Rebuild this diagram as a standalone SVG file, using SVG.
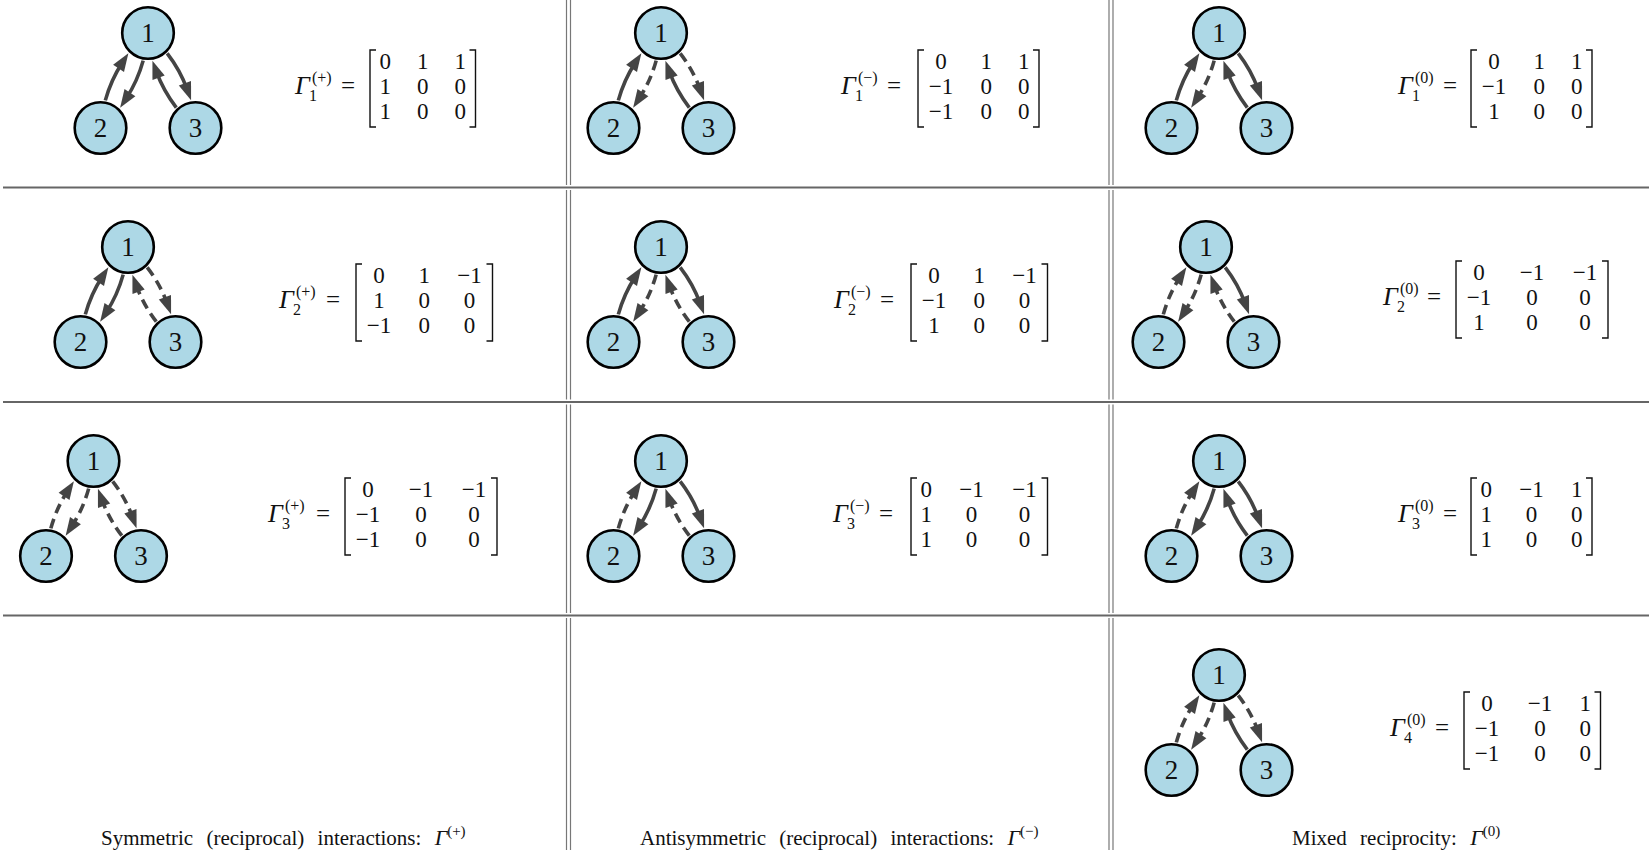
<svg xmlns="http://www.w3.org/2000/svg" width="1649" height="857" viewBox="0 0 1649 857">
<style>
.node circle{fill:#add8e6;stroke:#000;stroke-width:2.6}
.node text{font-family:"Liberation Serif",serif;font-size:27px;text-anchor:middle;fill:#111}
.e{fill:none;stroke:#444;stroke-width:3.6;marker-end:url(#ah)}
.d{stroke-dasharray:10 6}
.mx text{font-family:"Liberation Serif",serif;font-size:23px;fill:#111;text-anchor:middle}
.mx text.gm{font-style:italic;font-size:26px;text-anchor:start}
.mx text.ss{font-size:16px;text-anchor:start}
.mx text.eq{font-size:25px}
.br{fill:none;stroke:#111;stroke-width:1.4}
.sep{stroke:#666;stroke-width:2}
.vsep{stroke:#777;stroke-width:1.2}
.cap{font-family:"Liberation Serif",serif;font-size:21px;fill:#111;word-spacing:8px}
</style>
<defs>
<marker id="ah" markerUnits="userSpaceOnUse" markerWidth="20" markerHeight="15" refX="7" refY="6.5" orient="auto" overflow="visible"><path d="M0,0 L18,6.5 L0,13 z" fill="#444"/></marker>
</defs>
<rect width="1649" height="857" fill="#fff"/>
<g id="grid">
<line class="sep" x1="3" y1="187.5" x2="1649" y2="187.5"/>
<line class="sep" x1="3" y1="402" x2="1649" y2="402"/>
<line class="sep" x1="3" y1="615.5" x2="1649" y2="615.5"/>
<g class="vsep">
<line x1="566.5" y1="0" x2="566.5" y2="185"/><line x1="570.5" y1="0" x2="570.5" y2="185"/>
<line x1="566.5" y1="190" x2="566.5" y2="399.5"/><line x1="570.5" y1="190" x2="570.5" y2="399.5"/>
<line x1="566.5" y1="404.5" x2="566.5" y2="613"/><line x1="570.5" y1="404.5" x2="570.5" y2="613"/>
<line x1="566.5" y1="618" x2="566.5" y2="850"/><line x1="570.5" y1="618" x2="570.5" y2="850"/>
<line x1="1109" y1="0" x2="1109" y2="185"/><line x1="1113" y1="0" x2="1113" y2="185"/>
<line x1="1109" y1="190" x2="1109" y2="399.5"/><line x1="1113" y1="190" x2="1113" y2="399.5"/>
<line x1="1109" y1="404.5" x2="1109" y2="613"/><line x1="1113" y1="404.5" x2="1113" y2="613"/>
<line x1="1109" y1="618" x2="1109" y2="850"/><line x1="1113" y1="618" x2="1113" y2="850"/>
</g>
</g>

<g id="connectors">
<g transform="translate(148,33)">
<path class="e" d="M-42.67,67.38 Q-37.05,46.97 -25.62,29.47"/>
<path class="e" d="M-4.83,27.62 Q-10.45,48.04 -21.87,65.53"/>
<path class="e" d="M19.2,20.45 Q32.16,37.19 39.31,56.83"/>
<path class="e" d="M28.3,74.55 Q15.34,57.82 8.19,38.17"/>
</g>
<g transform="translate(661,33)">
<path class="e" d="M-42.67,67.38 Q-37.05,46.97 -25.62,29.47"/>
<path class="e d" d="M-4.83,27.62 Q-10.45,48.04 -21.87,65.53"/>
<path class="e d" d="M19.2,20.45 Q32.16,37.19 39.31,56.83"/>
<path class="e" d="M28.3,74.55 Q15.34,57.82 8.19,38.17"/>
</g>
<g transform="translate(1219,33)">
<path class="e" d="M-42.67,67.38 Q-37.05,46.97 -25.62,29.47"/>
<path class="e d" d="M-4.83,27.62 Q-10.45,48.04 -21.87,65.53"/>
<path class="e" d="M19.2,20.45 Q32.16,37.19 39.31,56.83"/>
<path class="e" d="M28.3,74.55 Q15.34,57.82 8.19,38.17"/>
</g>
<g transform="translate(128,247)">
<path class="e" d="M-42.67,67.38 Q-37.05,46.97 -25.62,29.47"/>
<path class="e" d="M-4.83,27.62 Q-10.45,48.04 -21.87,65.53"/>
<path class="e d" d="M19.2,20.45 Q32.16,37.19 39.31,56.83"/>
<path class="e d" d="M28.3,74.55 Q15.34,57.82 8.19,38.17"/>
</g>
<g transform="translate(661,247)">
<path class="e" d="M-42.67,67.38 Q-37.05,46.97 -25.62,29.47"/>
<path class="e d" d="M-4.83,27.62 Q-10.45,48.04 -21.87,65.53"/>
<path class="e" d="M19.2,20.45 Q32.16,37.19 39.31,56.83"/>
<path class="e d" d="M28.3,74.55 Q15.34,57.82 8.19,38.17"/>
</g>
<g transform="translate(1206,247)">
<path class="e d" d="M-42.67,67.38 Q-37.05,46.97 -25.62,29.47"/>
<path class="e d" d="M-4.83,27.62 Q-10.45,48.04 -21.87,65.53"/>
<path class="e" d="M19.2,20.45 Q32.16,37.19 39.31,56.83"/>
<path class="e d" d="M28.3,74.55 Q15.34,57.82 8.19,38.17"/>
</g>
<g transform="translate(93.5,461)">
<path class="e d" d="M-42.67,67.38 Q-37.05,46.97 -25.62,29.47"/>
<path class="e d" d="M-4.83,27.62 Q-10.45,48.04 -21.87,65.53"/>
<path class="e d" d="M19.2,20.45 Q32.16,37.19 39.31,56.83"/>
<path class="e d" d="M28.3,74.55 Q15.34,57.82 8.19,38.17"/>
</g>
<g transform="translate(661,461)">
<path class="e d" d="M-42.67,67.38 Q-37.05,46.97 -25.62,29.47"/>
<path class="e" d="M-4.83,27.62 Q-10.45,48.04 -21.87,65.53"/>
<path class="e" d="M19.2,20.45 Q32.16,37.19 39.31,56.83"/>
<path class="e d" d="M28.3,74.55 Q15.34,57.82 8.19,38.17"/>
</g>
<g transform="translate(1219,461)">
<path class="e d" d="M-42.67,67.38 Q-37.05,46.97 -25.62,29.47"/>
<path class="e" d="M-4.83,27.62 Q-10.45,48.04 -21.87,65.53"/>
<path class="e" d="M19.2,20.45 Q32.16,37.19 39.31,56.83"/>
<path class="e" d="M28.3,74.55 Q15.34,57.82 8.19,38.17"/>
</g>
<g transform="translate(1219,675)">
<path class="e d" d="M-42.67,67.38 Q-37.05,46.97 -25.62,29.47"/>
<path class="e d" d="M-4.83,27.62 Q-10.45,48.04 -21.87,65.53"/>
<path class="e d" d="M19.2,20.45 Q32.16,37.19 39.31,56.83"/>
<path class="e" d="M28.3,74.55 Q15.34,57.82 8.19,38.17"/>
</g>
</g>

<g id="nodes">
<g id="r1c1-n1" class="node"><circle cx="148" cy="33" r="25.8"/><text x="148" y="42">1</text></g>
<g id="r1c1-n2" class="node"><circle cx="100.5" cy="128" r="25.8"/><text x="100.5" y="137">2</text></g>
<g id="r1c1-n3" class="node"><circle cx="195.5" cy="128" r="25.8"/><text x="195.5" y="137">3</text></g>
<g id="r1c2-n1" class="node"><circle cx="661" cy="33" r="25.8"/><text x="661" y="42">1</text></g>
<g id="r1c2-n2" class="node"><circle cx="613.5" cy="128" r="25.8"/><text x="613.5" y="137">2</text></g>
<g id="r1c2-n3" class="node"><circle cx="708.5" cy="128" r="25.8"/><text x="708.5" y="137">3</text></g>
<g id="r1c3-n1" class="node"><circle cx="1219" cy="33" r="25.8"/><text x="1219" y="42">1</text></g>
<g id="r1c3-n2" class="node"><circle cx="1171.5" cy="128" r="25.8"/><text x="1171.5" y="137">2</text></g>
<g id="r1c3-n3" class="node"><circle cx="1266.5" cy="128" r="25.8"/><text x="1266.5" y="137">3</text></g>
<g id="r2c1-n1" class="node"><circle cx="128" cy="247" r="25.8"/><text x="128" y="256">1</text></g>
<g id="r2c1-n2" class="node"><circle cx="80.5" cy="342" r="25.8"/><text x="80.5" y="351">2</text></g>
<g id="r2c1-n3" class="node"><circle cx="175.5" cy="342" r="25.8"/><text x="175.5" y="351">3</text></g>
<g id="r2c2-n1" class="node"><circle cx="661" cy="247" r="25.8"/><text x="661" y="256">1</text></g>
<g id="r2c2-n2" class="node"><circle cx="613.5" cy="342" r="25.8"/><text x="613.5" y="351">2</text></g>
<g id="r2c2-n3" class="node"><circle cx="708.5" cy="342" r="25.8"/><text x="708.5" y="351">3</text></g>
<g id="r2c3-n1" class="node"><circle cx="1206" cy="247" r="25.8"/><text x="1206" y="256">1</text></g>
<g id="r2c3-n2" class="node"><circle cx="1158.5" cy="342" r="25.8"/><text x="1158.5" y="351">2</text></g>
<g id="r2c3-n3" class="node"><circle cx="1253.5" cy="342" r="25.8"/><text x="1253.5" y="351">3</text></g>
<g id="r3c1-n1" class="node"><circle cx="93.5" cy="461" r="25.8"/><text x="93.5" y="470">1</text></g>
<g id="r3c1-n2" class="node"><circle cx="46" cy="556" r="25.8"/><text x="46" y="565">2</text></g>
<g id="r3c1-n3" class="node"><circle cx="141" cy="556" r="25.8"/><text x="141" y="565">3</text></g>
<g id="r3c2-n1" class="node"><circle cx="661" cy="461" r="25.8"/><text x="661" y="470">1</text></g>
<g id="r3c2-n2" class="node"><circle cx="613.5" cy="556" r="25.8"/><text x="613.5" y="565">2</text></g>
<g id="r3c2-n3" class="node"><circle cx="708.5" cy="556" r="25.8"/><text x="708.5" y="565">3</text></g>
<g id="r3c3-n1" class="node"><circle cx="1219" cy="461" r="25.8"/><text x="1219" y="470">1</text></g>
<g id="r3c3-n2" class="node"><circle cx="1171.5" cy="556" r="25.8"/><text x="1171.5" y="565">2</text></g>
<g id="r3c3-n3" class="node"><circle cx="1266.5" cy="556" r="25.8"/><text x="1266.5" y="565">3</text></g>
<g id="r4c3-n1" class="node"><circle cx="1219" cy="675" r="25.8"/><text x="1219" y="684">1</text></g>
<g id="r4c3-n2" class="node"><circle cx="1171.5" cy="770" r="25.8"/><text x="1171.5" y="779">2</text></g>
<g id="r4c3-n3" class="node"><circle cx="1266.5" cy="770" r="25.8"/><text x="1266.5" y="779">3</text></g>
</g>

<g id="matrices">
<g id="m-r1c1" class="mx">
<text class="gm" x="295" y="94">Γ</text><text class="ss" x="312" y="83">(+)</text><text class="ss" x="309" y="101">1</text>
<text class="eq" x="348" y="94">=</text>
<path class="br" d="M376,50 H370 V127 H376 M469.5,50 H475.5 V127 H469.5"/>
<text x="385.25" y="69">0</text><text x="422.75" y="69">1</text><text x="460.25" y="69">1</text>
<text x="385.25" y="94">1</text><text x="422.75" y="94">0</text><text x="460.25" y="94">0</text>
<text x="385.25" y="119">1</text><text x="422.75" y="119">0</text><text x="460.25" y="119">0</text>
</g>
<g id="m-r1c2" class="mx">
<text class="gm" x="841" y="94">Γ</text><text class="ss" x="858" y="83">(−)</text><text class="ss" x="855" y="101">1</text>
<text class="eq" x="894" y="94">=</text>
<path class="br" d="M924,50 H918 V127 H924 M1033,50 H1039 V127 H1033"/>
<text x="941" y="69">0</text><text x="986.25" y="69">1</text><text x="1023.75" y="69">1</text>
<text x="941" y="94">−1</text><text x="986.25" y="94">0</text><text x="1023.75" y="94">0</text>
<text x="941" y="119">−1</text><text x="986.25" y="119">0</text><text x="1023.75" y="119">0</text>
</g>
<g id="m-r1c3" class="mx">
<text class="gm" x="1398" y="94">Γ</text><text class="ss" x="1415" y="83">(0)</text><text class="ss" x="1412" y="101">1</text>
<text class="eq" x="1450" y="94">=</text>
<path class="br" d="M1477,50 H1471 V127 H1477 M1586,50 H1592 V127 H1586"/>
<text x="1494" y="69">0</text><text x="1539.25" y="69">1</text><text x="1576.75" y="69">1</text>
<text x="1494" y="94">−1</text><text x="1539.25" y="94">0</text><text x="1576.75" y="94">0</text>
<text x="1494" y="119">1</text><text x="1539.25" y="119">0</text><text x="1576.75" y="119">0</text>
</g>
<g id="m-r2c1" class="mx">
<text class="gm" x="279" y="308">Γ</text><text class="ss" x="296" y="297">(+)</text><text class="ss" x="293" y="315">2</text>
<text class="eq" x="333" y="308">=</text>
<path class="br" d="M362,264 H356 V341 H362 M486.5,264 H492.5 V341 H486.5"/>
<text x="379" y="283">0</text><text x="424.25" y="283">1</text><text x="469.5" y="283">−1</text>
<text x="379" y="308">1</text><text x="424.25" y="308">0</text><text x="469.5" y="308">0</text>
<text x="379" y="333">−1</text><text x="424.25" y="333">0</text><text x="469.5" y="333">0</text>
</g>
<g id="m-r2c2" class="mx">
<text class="gm" x="834" y="308">Γ</text><text class="ss" x="851" y="297">(−)</text><text class="ss" x="848" y="315">2</text>
<text class="eq" x="887" y="308">=</text>
<path class="br" d="M917,264 H911 V341 H917 M1041.5,264 H1047.5 V341 H1041.5"/>
<text x="934" y="283">0</text><text x="979.25" y="283">1</text><text x="1024.5" y="283">−1</text>
<text x="934" y="308">−1</text><text x="979.25" y="308">0</text><text x="1024.5" y="308">0</text>
<text x="934" y="333">1</text><text x="979.25" y="333">0</text><text x="1024.5" y="333">0</text>
</g>
<g id="m-r2c3" class="mx">
<text class="gm" x="1383" y="305">Γ</text><text class="ss" x="1400" y="294">(0)</text><text class="ss" x="1397" y="312">2</text>
<text class="eq" x="1434" y="305">=</text>
<path class="br" d="M1462,261 H1456 V338 H1462 M1602,261 H1608 V338 H1602"/>
<text x="1479" y="280">0</text><text x="1532" y="280">−1</text><text x="1585" y="280">−1</text>
<text x="1479" y="305">−1</text><text x="1532" y="305">0</text><text x="1585" y="305">0</text>
<text x="1479" y="330">1</text><text x="1532" y="330">0</text><text x="1585" y="330">0</text>
</g>
<g id="m-r3c1" class="mx">
<text class="gm" x="268" y="522">Γ</text><text class="ss" x="285" y="511">(+)</text><text class="ss" x="282" y="529">3</text>
<text class="eq" x="323" y="522">=</text>
<path class="br" d="M351,478 H345 V555 H351 M491,478 H497 V555 H491"/>
<text x="368" y="497">0</text><text x="421" y="497">−1</text><text x="474" y="497">−1</text>
<text x="368" y="522">−1</text><text x="421" y="522">0</text><text x="474" y="522">0</text>
<text x="368" y="547">−1</text><text x="421" y="547">0</text><text x="474" y="547">0</text>
</g>
<g id="m-r3c2" class="mx">
<text class="gm" x="833" y="522">Γ</text><text class="ss" x="850" y="511">(−)</text><text class="ss" x="847" y="529">3</text>
<text class="eq" x="886" y="522">=</text>
<path class="br" d="M917,478 H911 V555 H917 M1041.5,478 H1047.5 V555 H1041.5"/>
<text x="926.25" y="497">0</text><text x="971.5" y="497">−1</text><text x="1024.5" y="497">−1</text>
<text x="926.25" y="522">1</text><text x="971.5" y="522">0</text><text x="1024.5" y="522">0</text>
<text x="926.25" y="547">1</text><text x="971.5" y="547">0</text><text x="1024.5" y="547">0</text>
</g>
<g id="m-r3c3" class="mx">
<text class="gm" x="1398" y="522">Γ</text><text class="ss" x="1415" y="511">(0)</text><text class="ss" x="1412" y="529">3</text>
<text class="eq" x="1450" y="522">=</text>
<path class="br" d="M1477,478 H1471 V555 H1477 M1586,478 H1592 V555 H1586"/>
<text x="1486.25" y="497">0</text><text x="1531.5" y="497">−1</text><text x="1576.75" y="497">1</text>
<text x="1486.25" y="522">1</text><text x="1531.5" y="522">0</text><text x="1576.75" y="522">0</text>
<text x="1486.25" y="547">1</text><text x="1531.5" y="547">0</text><text x="1576.75" y="547">0</text>
</g>
<g id="m-r4c3" class="mx">
<text class="gm" x="1390" y="736">Γ</text><text class="ss" x="1407" y="725">(0)</text><text class="ss" x="1404" y="743">4</text>
<text class="eq" x="1442" y="736">=</text>
<path class="br" d="M1470,692 H1464 V769 H1470 M1594.5,692 H1600.5 V769 H1594.5"/>
<text x="1487" y="711">0</text><text x="1540" y="711">−1</text><text x="1585.25" y="711">1</text>
<text x="1487" y="736">−1</text><text x="1540" y="736">0</text><text x="1585.25" y="736">0</text>
<text x="1487" y="761">−1</text><text x="1540" y="761">0</text><text x="1585.25" y="761">0</text>
</g>
</g>

<g id="captions">
<text class="cap" x="101" y="845">Symmetric (reciprocal) interactions: <tspan font-style="italic" font-size="22">Γ</tspan><tspan font-size="15" dy="-9">(+)</tspan></text>
<text class="cap" x="640" y="845">Antisymmetric (reciprocal) interactions: <tspan font-style="italic" font-size="22">Γ</tspan><tspan font-size="15" dy="-9">(−)</tspan></text>
<text class="cap" x="1292" y="845">Mixed reciprocity: <tspan font-style="italic" font-size="22">Γ</tspan><tspan font-size="15" dy="-9">(0)</tspan></text>
</g>
</svg>
